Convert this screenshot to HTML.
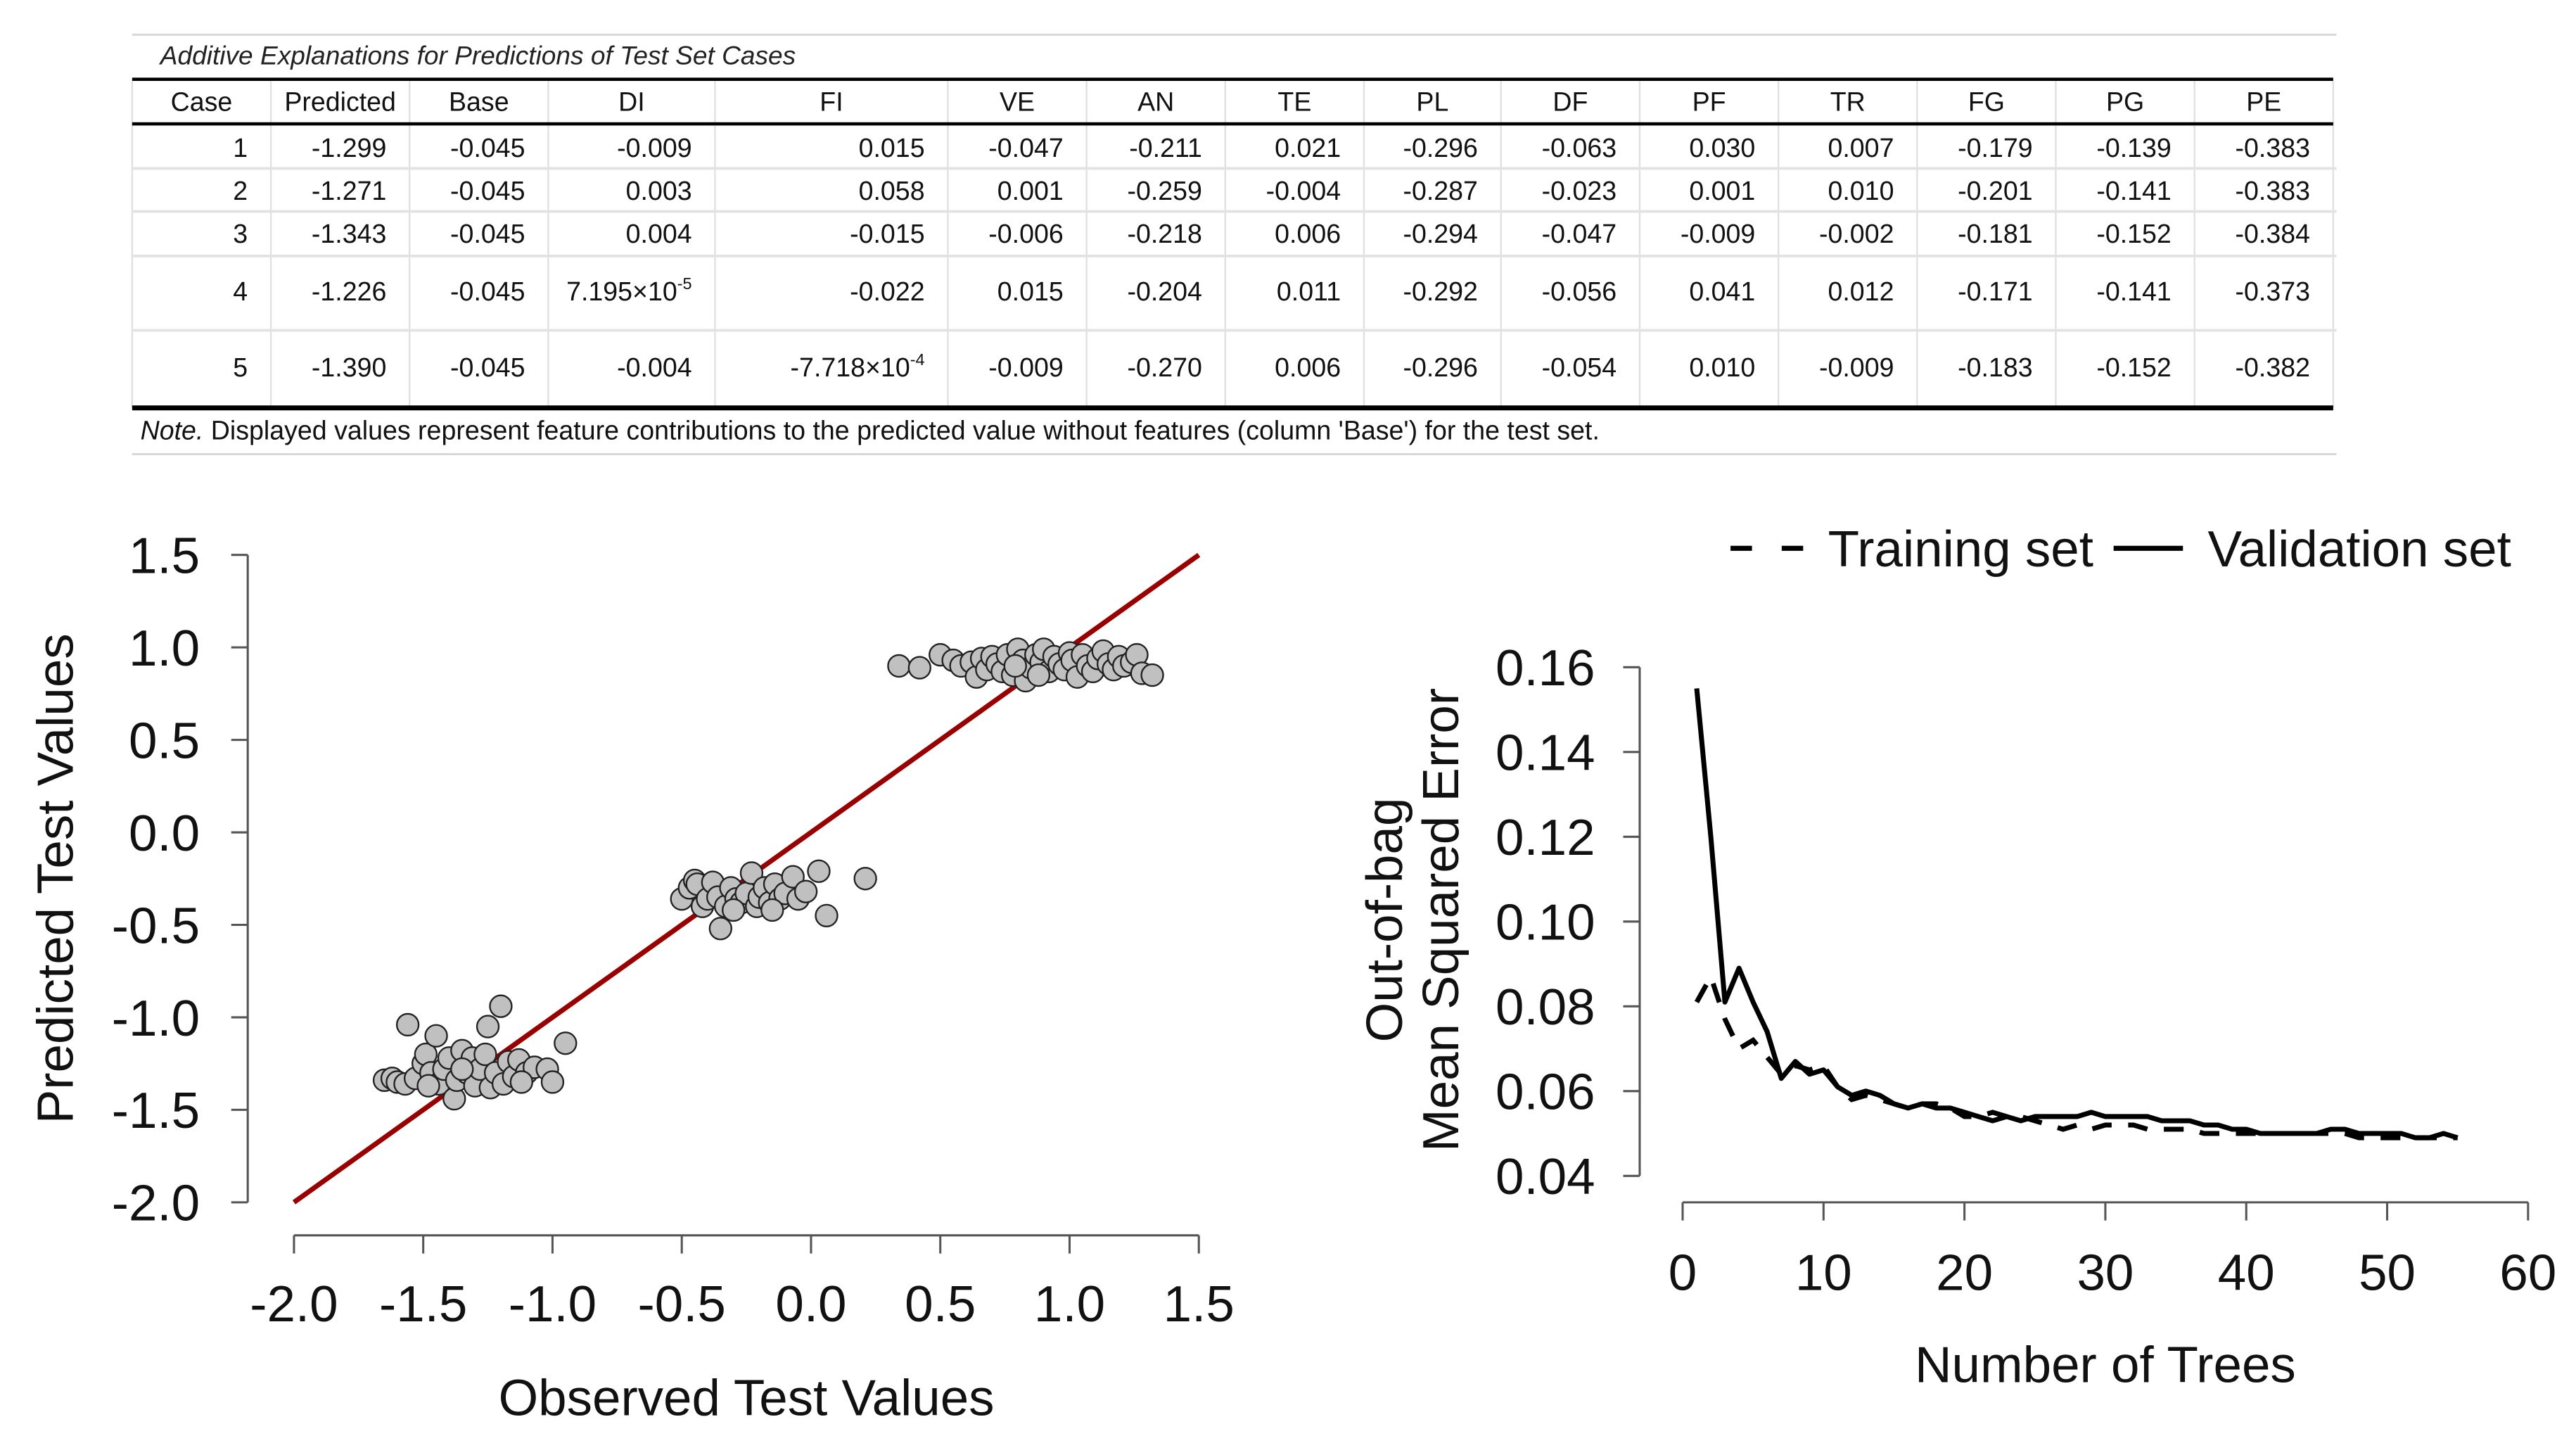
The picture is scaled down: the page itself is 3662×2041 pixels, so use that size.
<!DOCTYPE html>
<html><head><meta charset="utf-8"><style>
html,body{margin:0;padding:0;background:#fff;}
svg{display:block;font-family:"Liberation Sans",Arial,sans-serif;}
</style></head><body>
<svg id="root" width="3662" height="2041" viewBox="0 0 1560 869.5" xmlns="http://www.w3.org/2000/svg">
<g id="table"></g>
<g id="scatter"></g>
<g id="oob"></g>
</svg>
<script>
// ---------- table data ----------
const tableHeaders = ["Case","Predicted","Base","DI","FI","VE","AN","TE","PL","DF","PF","TR","FG","PG","PE"];
const tableRows = [
 ["1","-1.299","-0.045","-0.009","0.015","-0.047","-0.211","0.021","-0.296","-0.063","0.030","0.007","-0.179","-0.139","-0.383"],
 ["2","-1.271","-0.045","0.003","0.058","0.001","-0.259","-0.004","-0.287","-0.023","0.001","0.010","-0.201","-0.141","-0.383"],
 ["3","-1.343","-0.045","0.004","-0.015","-0.006","-0.218","0.006","-0.294","-0.047","-0.009","-0.002","-0.181","-0.152","-0.384"],
 ["4","-1.226","-0.045","7.195×10^-5","-0.022","0.015","-0.204","0.011","-0.292","-0.056","0.041","0.012","-0.171","-0.141","-0.373"],
 ["5","-1.390","-0.045","-0.004","-7.718×10^-4","-0.009","-0.270","0.006","-0.296","-0.054","0.010","-0.009","-0.183","-0.152","-0.382"]
];
// ---------- scatter data ----------
const obsValues = [-1.65,-1.62,-1.6,-1.56,-1.57,-1.53,-1.5,-1.49,-1.47,-1.45,-1.44,-1.42,-1.4,-1.38,-1.37,-1.35,-1.33,-1.31,-1.3,-1.28,-1.26,-1.25,-1.24,-1.22,-1.2,-1.19,-1.17,-1.15,-1.13,-1.1,-1.07,-1.02,-1.0,-0.95,-1.12,-1.35,-1.48,
 -0.5,-0.47,-0.45,-0.44,-0.42,-0.4,-0.38,-0.36,-0.35,-0.33,-0.31,-0.29,-0.27,-0.25,-0.23,-0.21,-0.2,-0.18,-0.16,-0.14,-0.12,-0.1,-0.07,-0.05,-0.02,0.03,0.06,0.21,-0.3,-0.15,
 0.34,0.42,0.5,0.55,0.58,0.62,0.64,0.66,0.68,0.7,0.72,0.74,0.76,0.78,0.8,0.82,0.83,0.85,0.87,0.89,0.9,0.92,0.94,0.96,0.98,1.0,1.01,1.03,1.05,1.07,1.09,1.11,1.13,1.15,1.17,1.19,1.21,1.24,1.26,1.28,1.32,0.79,0.88];
const predValues = [-1.34,-1.33,-1.35,-1.04,-1.36,-1.33,-1.25,-1.2,-1.3,-1.1,-1.36,-1.28,-1.22,-1.44,-1.34,-1.18,-1.3,-1.22,-1.37,-1.28,-1.2,-1.05,-1.38,-1.3,-0.94,-1.36,-1.24,-1.32,-1.23,-1.3,-1.27,-1.28,-1.35,-1.14,-1.35,-1.28,-1.37,
 -0.36,-0.3,-0.26,-0.28,-0.4,-0.36,-0.27,-0.35,-0.52,-0.4,-0.3,-0.36,-0.38,-0.33,-0.22,-0.4,-0.35,-0.3,-0.38,-0.28,-0.36,-0.33,-0.24,-0.36,-0.32,-0.21,-0.45,-0.25,-0.42,-0.42,
 0.9,0.89,0.96,0.93,0.9,0.92,0.84,0.94,0.88,0.95,0.91,0.87,0.96,0.85,0.99,0.93,0.82,0.89,0.96,0.92,0.99,0.87,0.95,0.91,0.88,0.97,0.93,0.84,0.96,0.9,0.87,0.94,0.98,0.91,0.88,0.95,0.9,0.92,0.96,0.86,0.85,0.9,0.85];
const scatterTicks = [-2.0,-1.5,-1.0,-0.5,0.0,0.5,1.0,1.5];
const scatterTickLabels = ["-2.0","-1.5","-1.0","-0.5","0.0","0.5","1.0","1.5"];
// ---------- OOB data ----------
const treeCounts = [1,2,3,4,5,6,7,8,9,10,11,12,13,14,15,16,17,18,19,20,21,22,23,24,25,26,27,28,29,30,31,32,33,34,35,36,37,38,39,40,41,42,43,44,45,46,47,48,49,50,51,52,53,54,55];
const validationMSE = [0.155,0.12,0.081,0.089,0.081,0.074,0.063,0.067,0.064,0.065,0.061,0.059,0.060,0.059,0.057,0.056,0.057,0.056,0.056,0.055,0.054,0.053,0.054,0.053,0.054,0.054,0.054,0.054,0.055,0.054,0.054,0.054,0.054,0.053,0.053,0.053,0.052,0.052,0.051,0.051,0.050,0.050,0.050,0.050,0.050,0.051,0.051,0.050,0.050,0.050,0.050,0.049,0.049,0.050,0.049];
const trainingMSE = [0.081,0.087,0.077,0.070,0.072,0.068,0.064,0.066,0.065,0.066,0.061,0.058,0.059,0.058,0.057,0.056,0.057,0.057,0.056,0.054,0.054,0.055,0.054,0.054,0.053,0.052,0.051,0.052,0.051,0.052,0.052,0.052,0.051,0.051,0.051,0.051,0.050,0.050,0.050,0.050,0.050,0.050,0.050,0.050,0.050,0.050,0.050,0.049,0.049,0.049,0.049,0.049,0.049,0.049,0.049];
const oobYTicks = [0.04,0.06,0.08,0.10,0.12,0.14,0.16];
const oobYTickLabels = ["0.04","0.06","0.08","0.10","0.12","0.14","0.16"];
const oobXTicks = [0,10,20,30,40,50,60];
const oobXTickLabels = ["0","10","20","30","40","50","60"];

const NS="http://www.w3.org/2000/svg";
const AF=31;
function mk(parent,tag,attrs,text){const e=document.createElementNS(NS,tag);for(const k in attrs)e.setAttribute(k,attrs[k]);if(text!==undefined)e.textContent=text;parent.appendChild(e);return e;}

// ---------- table ----------
(function(){
 const g=document.getElementById('table');
 const colX=[80,164,248,332,433,574,658,742,826,909,993,1077,1161,1245,1329,1413];
 const rowY=[90,116,142,177,223];
 const sepY=[102,128,155,200];
 let l;
 l=mk(g,'line',{x1:80,x2:1415,y1:21,y2:21,stroke:'#d8d8d8','stroke-width':1.3});
 
 l=mk(g,'line',{x1:80,x2:1415,y1:275,y2:275,stroke:'#d8d8d8','stroke-width':1.3});
 
 colX.forEach(x=>{
  l=mk(g,'line',{x1:x,x2:x,y1:49,y2:247,stroke:'#e0e0e0','stroke-width':1});
  
 });
 sepY.forEach(y=>{
  l=mk(g,'line',{x1:80,x2:1415,y1:y,y2:y,stroke:'#e2e2e2','stroke-width':1.6});
  
 });
 [48,75,247].forEach(y=>{
  l=mk(g,'line',{x1:80,x2:1413,y1:y,y2:y,stroke:'#000','stroke-width':y===247?3:2});
  
 });
 let t=mk(g,'text',{x:97,y:39,'font-size':15.8,'font-style':'italic',fill:'#222'},'Additive Explanations for Predictions of Test Set Cases');
 
 tableHeaders.forEach((h,i)=>{
  const cx=(colX[i]+colX[i+1])/2;
  t=mk(g,'text',{x:cx,y:67,'font-size':16,'text-anchor':'middle',fill:'#111'},h);
  
 });
 tableRows.forEach((row,r)=>{
  row.forEach((v,i)=>{
   const rx=colX[i+1]-14;
   t=mk(g,'text',{x:rx,y:rowY[r]+5,'font-size':16,'text-anchor':'end',fill:'#111'});
   
   
   if(v.indexOf('^')>=0){
    const p=v.split('^');
    mk(t,'tspan',{},p[0]);
    mk(t,'tspan',{'font-size':10,dy:-7},p[1]);
   } else t.textContent=v;
  });
 });
 t=mk(g,'text',{x:85,y:266,'font-size':16,fill:'#111'});
 
 mk(t,'tspan',{'font-style':'italic'},'Note.');
 mk(t,'tspan',{},'  Displayed values represent feature contributions to the predicted value without features (column \'Base\') for the test set.');
})();

// ---------- scatter ----------
(function(){
 const g=document.getElementById('scatter');
 const sx=v=>178+(v+2)*(726-178)/3.5;
 const sy=v=>728-(v+2)*(728-336)/3.5;
 let e;
 e=mk(g,'line',{x1:150,x2:150,y1:sy(-2),y2:sy(1.5),stroke:'#555','stroke-width':1.3});
 
 e=mk(g,'line',{x1:sx(-2),x2:sx(1.5),y1:748,y2:748,stroke:'#555','stroke-width':1.3});
 
 scatterTicks.forEach((v,i)=>{
  e=mk(g,'line',{x1:140,x2:150,y1:sy(v),y2:sy(v),stroke:'#555','stroke-width':1.3});
  
  e=mk(g,'text',{x:121,y:sy(v)+11,'font-size':AF,'text-anchor':'end',fill:'#111'},scatterTickLabels[i]);
  
  e=mk(g,'line',{x1:sx(v),x2:sx(v),y1:748,y2:759,stroke:'#555','stroke-width':1.3});
  
  e=mk(g,'text',{x:sx(v),y:800,'font-size':AF,'text-anchor':'middle',fill:'#111'},scatterTickLabels[i]);
  
 });
 e=mk(g,'line',{x1:sx(-2),y1:sy(-2),x2:sx(1.5),y2:sy(1.5),stroke:'#990000','stroke-width':3});
 
 obsValues.forEach((x,i)=>{
  e=mk(g,'circle',{cx:sx(x),cy:sy(predValues[i]),r:6.6,fill:'#c0c0c0',stroke:'#222','stroke-width':1});
  
  
 });
 e=mk(g,'text',{x:452,y:857,'font-size':AF,'text-anchor':'middle',fill:'#111'},'Observed Test Values');
 
 e=mk(g,'text',{x:0,y:0,'font-size':AF,'text-anchor':'middle',fill:'#111',transform:'translate(44,532) rotate(-90)'},'Predicted Test Values');
 
})();

// ---------- OOB ----------
(function(){
 const g=document.getElementById('oob');
 const sx=v=>1019+v*(1531-1019)/60;
 const sy=v=>712-(v-0.04)*(712-404)/0.12;
 let e;
 e=mk(g,'line',{x1:993,x2:993,y1:sy(0.04),y2:sy(0.16),stroke:'#555','stroke-width':1.3});
 
 e=mk(g,'line',{x1:sx(0),x2:sx(60),y1:728,y2:728,stroke:'#555','stroke-width':1.3});
 
 oobYTicks.forEach((v,i)=>{
  e=mk(g,'line',{x1:983,x2:993,y1:sy(v),y2:sy(v),stroke:'#555','stroke-width':1.3});
  
  e=mk(g,'text',{x:966,y:sy(v)+11,'font-size':AF,'text-anchor':'end',fill:'#111'},oobYTickLabels[i]);
  
 });
 oobXTicks.forEach((v,i)=>{
  e=mk(g,'line',{x1:sx(v),x2:sx(v),y1:728,y2:739,stroke:'#555','stroke-width':1.3});
  
  e=mk(g,'text',{x:sx(v),y:781,'font-size':AF,'text-anchor':'middle',fill:'#111'},oobXTickLabels[i]);
  
 });
 const path=arr=>arr.map((v,i)=>(i?'L':'M')+sx(treeCounts[i]).toFixed(2)+' '+sy(v).toFixed(2)).join(' ');
 e=mk(g,'path',{d:path(trainingMSE),fill:'none',stroke:'#000','stroke-width':3,'stroke-dasharray':'12 10'});
 
 e=mk(g,'path',{d:path(validationMSE),fill:'none',stroke:'#000','stroke-width':3,'stroke-linejoin':'round'});
 
 e=mk(g,'line',{x1:1048,x2:1092,y1:332,y2:332,stroke:'#000','stroke-width':3,'stroke-dasharray':'13 18'});
 
 e=mk(g,'text',{x:1107,y:343,'font-size':AF,fill:'#111'},'Training set');
 
 e=mk(g,'line',{x1:1280,x2:1322,y1:332,y2:332,stroke:'#000','stroke-width':3});
 
 e=mk(g,'text',{x:1337,y:343,'font-size':AF,fill:'#111'},'Validation set');
 
 e=mk(g,'text',{x:1275,y:837,'font-size':AF,'text-anchor':'middle',fill:'#111'},'Number of Trees');
 
 e=mk(g,'text',{x:0,y:0,'font-size':AF,'text-anchor':'middle',fill:'#111',transform:'translate(849,557) rotate(-90)'},'Out-of-bag');
 
 e=mk(g,'text',{x:0,y:0,'font-size':AF,'text-anchor':'middle',fill:'#111',transform:'translate(883,557) rotate(-90)'},'Mean Squared Error');
 
})();
</script>
</body></html>
